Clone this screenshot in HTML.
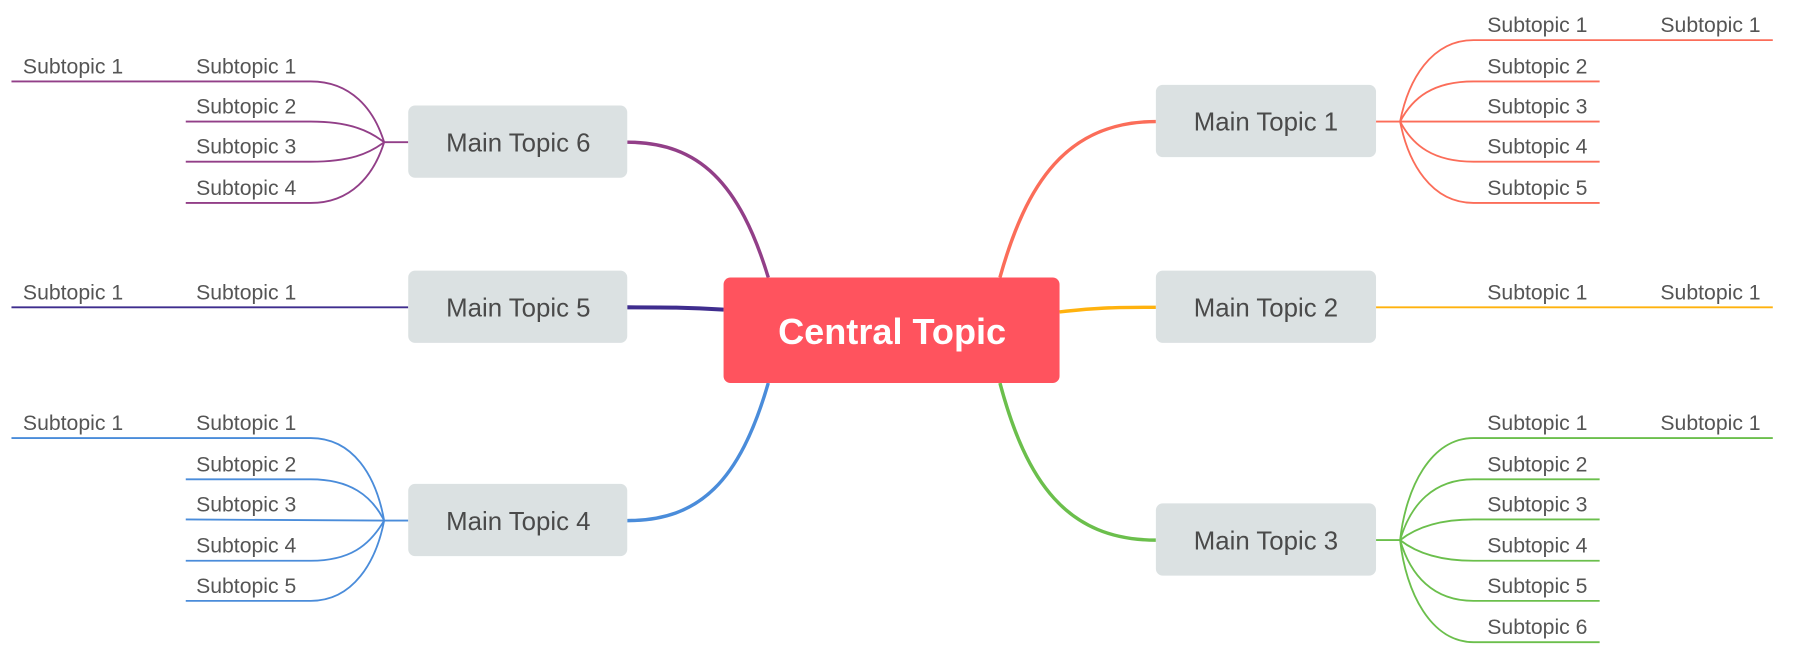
<!DOCTYPE html>
<html><head><meta charset="utf-8"><style>
html,body{margin:0;padding:0;background:#fff;width:1798px;height:658px;overflow:hidden}
svg{display:block}
text{font-family:"Liberation Sans",sans-serif}
.s{font-size:18.5px;fill:#555}
.m{font-size:22.5px;fill:#4a4a4a;text-anchor:middle}
</style></head><body>
<svg width="1798" height="658" viewBox="0 0 1798 658">
<g transform="scale(1.1467)" fill="none">
<path d="M872,242 C895,160 930,106 1008,106" stroke="#FB6D59" stroke-width="3"/>
<path d="M924,272 C960,268 975,268 1008,268" stroke="#FFB20E" stroke-width="3"/>
<path d="M872,334 C895,420 930,471 1008,471" stroke="#6BBF4C" stroke-width="3"/>
<path d="M670,242 C645,160 610,124 547,124" stroke="#923F88" stroke-width="3"/>
<path d="M631,270 C600,268 580,268 547,268" stroke="#3F2D8E" stroke-width="3.5"/>
<path d="M670,334 C645,420 610,454 547,454" stroke="#4A8CDA" stroke-width="3"/>

<g stroke="#FB6D59" stroke-width="1.6">
<path d="M1200,106 L1221,106"/>
<path d="M1221,106 C1228,70 1248,35 1285,35 L1546,35"/>
<path d="M1221,106 C1232,85 1250,71 1285,71 L1395,71"/>
<path d="M1221,106 L1395,106"/>
<path d="M1221,106 C1232,127 1250,141 1285,141 L1395,141"/>
<path d="M1221,106 C1228,142 1248,177 1285,177 L1395,177"/>
</g>
<path d="M1200,268 L1546,268" stroke="#FFB20E" stroke-width="1.6"/>
<g stroke="#6BBF4C" stroke-width="1.6">
<path d="M1200,471 L1221,471"/>
<path d="M1221,471 C1226,425 1248,382 1285,382 L1546,382"/>
<path d="M1221,471 C1230,440 1250,418 1285,418 L1395,418"/>
<path d="M1221,471 C1235,460 1255,453 1285,453 L1395,453"/>
<path d="M1221,471 C1235,482 1255,489 1285,489 L1395,489"/>
<path d="M1221,471 C1230,502 1250,524 1285,524 L1395,524"/>
<path d="M1221,471 C1226,517 1248,560 1285,560 L1395,560"/>
</g>
<g stroke="#923F88" stroke-width="1.6">
<path d="M356,124 L335,124"/>
<path d="M335,124 C326,95 306,71 271,71 L10,71"/>
<path d="M335,124 C322,114 305,106 271,106 L162,106"/>
<path d="M335,124 C322,134 305,141 271,141 L162,141"/>
<path d="M335,124 C326,153 306,177 271,177 L162,177"/>
</g>
<path d="M10,268 L356,268" stroke="#3F2D8E" stroke-width="1.6"/>
<g stroke="#4A8CDA" stroke-width="1.6">
<path d="M356,454 L335,454"/>
<path d="M335,454 C328,415 308,382 271,382 L10,382"/>
<path d="M335,454 C324,432 305,418 271,418 L162,418"/>
<path d="M335,454 L162,453"/>
<path d="M335,454 C322,476 305,489 271,489 L162,489"/>
<path d="M335,454 C328,490 308,524 271,524 L162,524"/>
</g>

<rect x="631" y="242" width="293" height="92" rx="6" fill="#FF535E"/>
<g fill="#DBE1E2">
<rect x="1008" y="74" width="192" height="63" rx="6"/>
<rect x="1008" y="236" width="192" height="63" rx="6"/>
<rect x="1008" y="439" width="192" height="63" rx="6"/>
<rect x="356" y="92" width="191" height="63" rx="6"/>
<rect x="356" y="236" width="191" height="63" rx="6"/>
<rect x="356" y="422" width="191" height="63" rx="6"/>
</g>
</g>
<g transform="scale(1.1467)">
<text x="778" y="300" text-anchor="middle" style="font-size:31.5px;font-weight:bold;fill:#fff">Central Topic</text>
<text class="m" x="1104" y="114">Main Topic 1</text>
<text class="m" x="1104" y="276">Main Topic 2</text>
<text class="m" x="1104" y="479">Main Topic 3</text>
<text class="m" x="452" y="132">Main Topic 6</text>
<text class="m" x="452" y="276">Main Topic 5</text>
<text class="m" x="452" y="462">Main Topic 4</text>

<text class="s" x="1297" y="28">Subtopic 1</text>
<text class="s" x="1448" y="28">Subtopic 1</text>
<text class="s" x="1297" y="64">Subtopic 2</text>
<text class="s" x="1297" y="99">Subtopic 3</text>
<text class="s" x="1297" y="134">Subtopic 4</text>
<text class="s" x="1297" y="170">Subtopic 5</text>

<text class="s" x="1297" y="261">Subtopic 1</text>
<text class="s" x="1448" y="261">Subtopic 1</text>

<text class="s" x="1297" y="375">Subtopic 1</text>
<text class="s" x="1448" y="375">Subtopic 1</text>
<text class="s" x="1297" y="411">Subtopic 2</text>
<text class="s" x="1297" y="446">Subtopic 3</text>
<text class="s" x="1297" y="482">Subtopic 4</text>
<text class="s" x="1297" y="517">Subtopic 5</text>
<text class="s" x="1297" y="553">Subtopic 6</text>

<text class="s" x="20" y="64">Subtopic 1</text>
<text class="s" x="171" y="64">Subtopic 1</text>
<text class="s" x="171" y="99">Subtopic 2</text>
<text class="s" x="171" y="134">Subtopic 3</text>
<text class="s" x="171" y="170">Subtopic 4</text>

<text class="s" x="20" y="261">Subtopic 1</text>
<text class="s" x="171" y="261">Subtopic 1</text>

<text class="s" x="20" y="375">Subtopic 1</text>
<text class="s" x="171" y="375">Subtopic 1</text>
<text class="s" x="171" y="411">Subtopic 2</text>
<text class="s" x="171" y="446">Subtopic 3</text>
<text class="s" x="171" y="482">Subtopic 4</text>
<text class="s" x="171" y="517">Subtopic 5</text>
</g>
</svg>
</body></html>
